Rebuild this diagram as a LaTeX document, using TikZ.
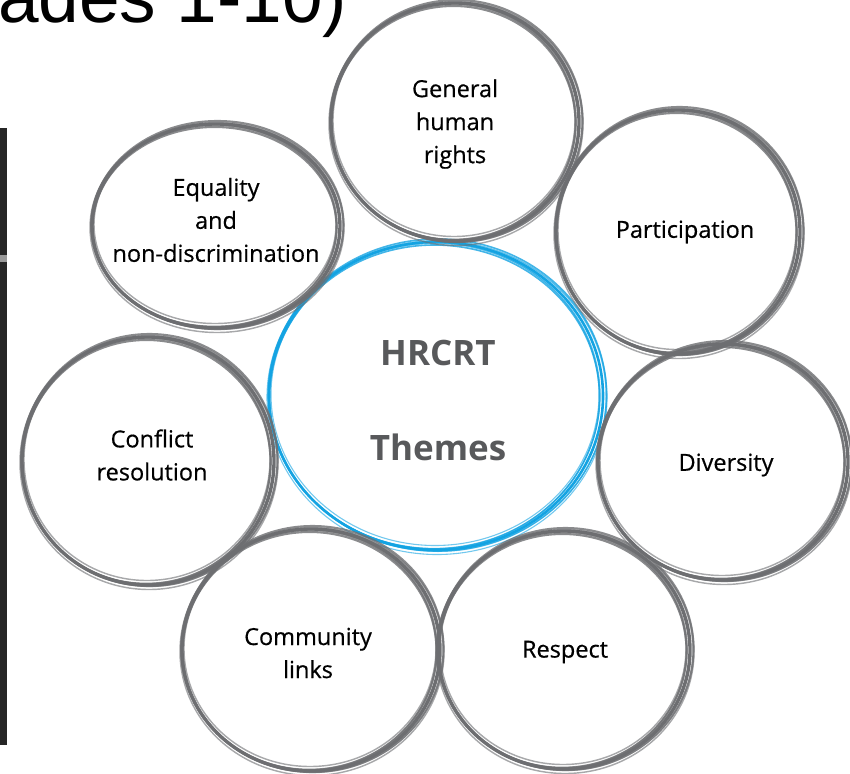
\documentclass[tikz,border=0pt]{standalone}
\usepackage{fontspec}
\setmainfont{Open Sans}
\newfontfamily\headfont{Liberation Sans}
\newfontfamily\themefont{Open Sans}[FakeBold=0.5]
\definecolor{ringgray}{RGB}{109,110,113}
\definecolor{ringblue}{RGB}{20,163,226}
\definecolor{titlegray}{RGB}{88,89,91}

% hand drawn ring: several slightly shifted ellipses
\newcommand{\sketchring}[5]{%
  \foreach \dx/\dy/\dr/\w/\o in {0/0/0/2.6/1, 1.5/-1/2/1.6/0.8, -1.5/1/-2/1.6/0.8,
      1/1.5/3/1.1/0.6, -1/-1.5/-3/1.1/0.6, 2/0.5/1/1.0/0.5, -2/-0.5/-1/1.3/0.7}
    \draw[#4, line width=#5*\w pt, opacity=\o, shift={(#1)}] (\dx,\dy) ellipse ({#2+\dr} and {#3+\dr});
}

\tikzset{
  theme/.style={align=center, text=black, font=\themefont\fontsize{23.5}{33}\selectfont},
  hub/.style={align=center, text=titlegray, font=\bfseries\fontsize{35}{95}\selectfont}
}

\begin{document}
\begin{tikzpicture}[x=1pt,y=-1pt]
\useasboundingbox (0,0) rectangle (850,773);
\begin{scope}
\clip (0,0) rectangle (850,773);
\node[anchor=base west, inner sep=0, font=\headfont\fontsize{73}{73}\selectfont] (heading) at (-2,23) {ades 1-10)};
\fill[black!85] (0,128) rectangle (7,745);
\fill[black!40] (0,255) rectangle (7,262);
\end{scope}

\node[hub] (hrcrt) at (438,400) {HRCRT\\Themes};
\node[theme] (rights) at (455,124) {General\\human\\rights};
\node[theme] (particip) at (685,232) {Participation};
\node[theme] (equality) at (216,220) {Equality\\and\\non-discrimination};
\node[theme] (conflict) at (152,455) {Conflict\\resolution};
\node[theme] (diversity) at (726,465) {Diversity};
\node[theme] (community) at (308,653) {Community\\links};
\node[theme] (respect) at (565,652) {Respect};

\sketchring{436,396}{167}{154}{ringblue}{1.0}
\sketchring{455,122}{124}{119}{ringgray}{1.3}
\sketchring{678,232}{122}{122}{ringgray}{1.3}
\sketchring{216,226}{124}{102}{ringgray}{1.3}
\sketchring{148,461}{126}{124}{ringgray}{1.3}
\sketchring{723,462}{125}{118}{ringgray}{1.3}
\sketchring{311,650}{129}{121}{ringgray}{1.3}
\sketchring{564,650}{126}{119}{ringgray}{1.3}

\end{tikzpicture}
\end{document}
